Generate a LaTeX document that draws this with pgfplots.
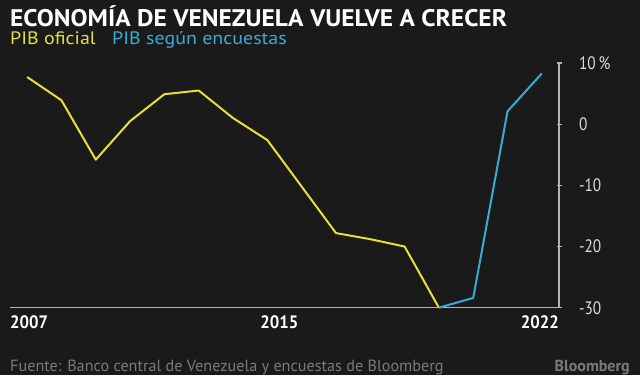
\documentclass[border=0pt]{standalone}
\usepackage{pgfplots}
\pgfplotsset{compat=1.18}
\usepackage{fontspec}
\setmainfont{PT Sans}
\newfontfamily\cond{PT Sans}[FakeStretch=0.85]
\newfontfamily\condb{PT Sans}[FakeStretch=0.93]
\newfontfamily\titf{PT Sans}[FakeStretch=1.06]
\newfontfamily\subf{PT Sans}[FakeStretch=1.11]
\definecolor{bg}{HTML}{1A1A1A}
\definecolor{ylw}{HTML}{E6E03A}
\definecolor{cyn}{HTML}{36ACD6}
\definecolor{axg}{HTML}{B4B4B4}
\definecolor{lbl}{HTML}{DCDCDC}
\definecolor{src}{HTML}{7A7A7A}
\begin{document}
\begin{tikzpicture}[x=1pt,y=1pt]
\fill[bg] (0,0) rectangle (640,375);
% title
\node[anchor=base west, inner sep=0pt, text=white] at (10,348.3) {\titf\fontsize{24}{24}\selectfont\bfseries ECONOMÍA DE VENEZUELA VUELVE A CRECER};
\node[anchor=base west, inner sep=0pt, text=ylw] at (10,330.7) {\subf\fontsize{18}{18}\selectfont PIB oficial};
\node[anchor=base west, inner sep=0pt, text=cyn] at (112,330.7) {\subf\fontsize{18}{18}\selectfont PIB según encuestas};
% source
\node[anchor=base west, inner sep=0pt, text=src] at (10,3.5) {\fontsize{16.2}{16.2}\selectfont Fuente: Banco central de Venezuela y encuestas de Bloomberg};
\node[anchor=base east, inner sep=0pt, text=src] at (630,3.5) {\fontsize{16}{16}\selectfont\bfseries Bloomberg};
\begin{axis}[
  at={(10pt,67.3pt)}, anchor=south west,
  scale only axis, width=549pt, height=244.7pt,
  xmin=2007, xmax=2023, ymin=-30, ymax=10,
  axis x line*=bottom, axis y line*=right,
  axis line style={axg, line width=1.5pt},
  xtick=\empty,
  ytick={-30,-20,-10,0,10},
  yticklabels={-30,-20,-10,0,10\,\%},
  tick align=center, major tick length=5pt,
  tick style={axg, line width=1.2pt},
  yticklabel style={anchor=west, xshift=14pt, text=lbl, font=\cond\fontsize{18}{18}\selectfont},
  clip=false,
]
\addplot[ylw, line width=2pt, line join=round] coordinates {
(2007.5,7.7) (2008.5,3.9) (2009.5,-5.8) (2010.5,0.5) (2011.5,4.9) (2012.5,5.5)
(2013.5,1.0) (2014.5,-2.6) (2015.5,-10.2) (2016.5,-17.8) (2017.5,-18.8) (2018.5,-20.0) (2019.5,-30)
};
\addplot[cyn, line width=2pt, line join=round] coordinates {
(2019.5,-30) (2020.5,-28.4) (2021.5,2.1) (2022.5,8.3)
};
\node[anchor=north west, inner sep=0pt, text=white, font=\condb\fontsize{18}{18}\selectfont\bfseries] at (axis cs:2007,-31.2) {2007};
\node[anchor=north, inner sep=0pt, text=white, font=\condb\fontsize{18}{18}\selectfont\bfseries] at (axis cs:2014.85,-31.2) {2015};
\node[anchor=north east, inner sep=0pt, text=white, font=\condb\fontsize{18}{18}\selectfont\bfseries] at (axis cs:2023,-31.2) {2022};
\end{axis}
\end{tikzpicture}
\end{document}
